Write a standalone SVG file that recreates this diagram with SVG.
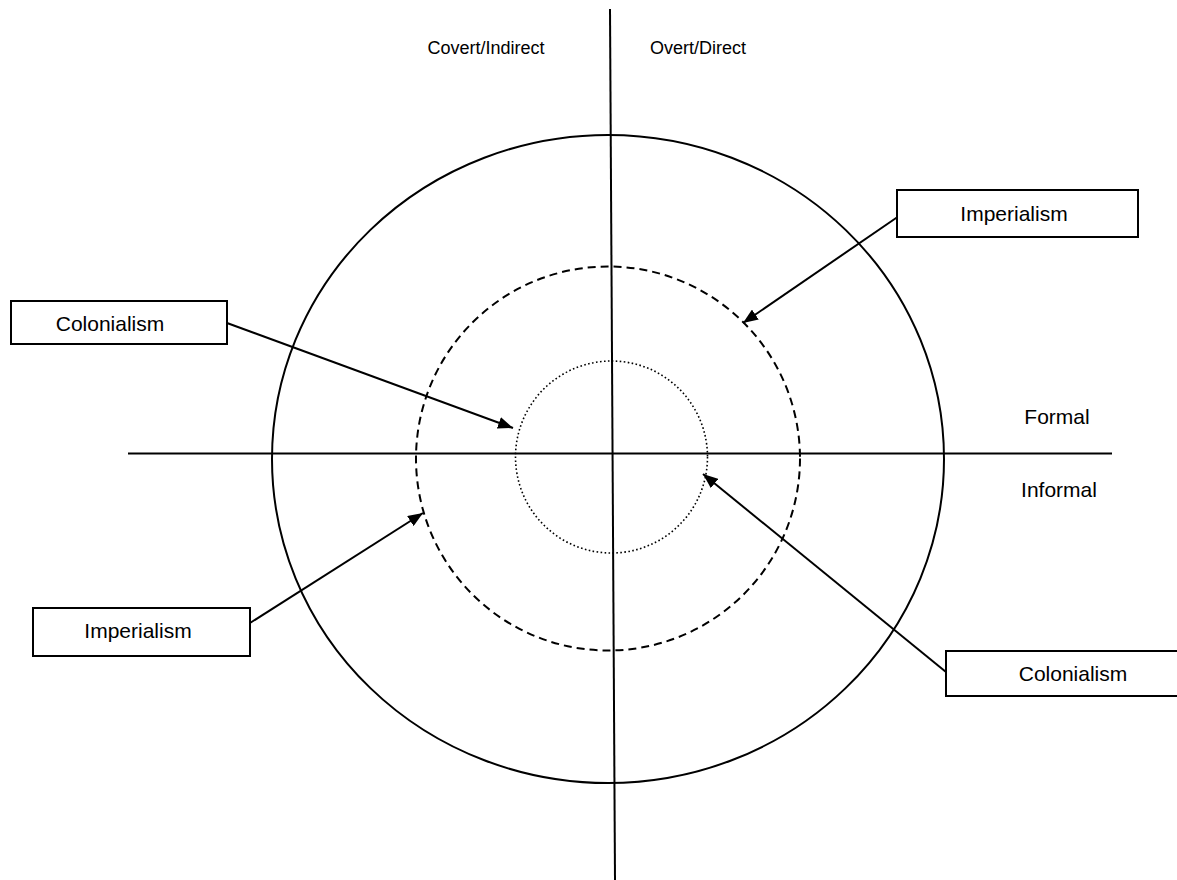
<svg xmlns="http://www.w3.org/2000/svg" width="1177" height="880" viewBox="0 0 1177 880">
<style>
.ln{stroke:#000;stroke-width:2;fill:none}
.box{fill:#fff;stroke:#000;stroke-width:2}
.t{font-family:"Liberation Sans",Arial,sans-serif;font-size:21px;fill:#000;text-anchor:middle}
.s{font-size:18px}
.ar{stroke:#000;stroke-width:2;fill:none;marker-end:url(#ah)}
</style>
<defs>
<marker id="ah" markerUnits="userSpaceOnUse" markerWidth="16" markerHeight="12" refX="15" refY="6" orient="auto">
<path d="M0,0 L15,6 L0,12 z" fill="#000"/>
</marker>
</defs>
<rect width="1177" height="880" fill="#fff"/>
<g id="rings">
<ellipse cx="608" cy="459" rx="336" ry="324" class="ln"/>
<circle cx="608" cy="458.5" r="192" class="ln" stroke-dasharray="8,5"/>
<circle cx="611.5" cy="457" r="96" style="stroke:#000;stroke-width:1.6;fill:none" stroke-dasharray="1.6,2.4"/>
</g>
<g id="axes">
<line x1="610" y1="9" x2="615" y2="880" class="ln"/>
<line x1="128" y1="453.5" x2="1112" y2="453.5" class="ln"/>
</g>
<g id="axis-labels">
<text class="t s" x="486" y="54">Covert/Indirect</text>
<text class="t s" x="698" y="54">Overt/Direct</text>
<text class="t" x="1057" y="424">Formal</text>
<text class="t" x="1059" y="497">Informal</text>
</g>
<g id="connectors">
<line class="ar" x1="227" y1="323" x2="513" y2="428"/>
<line class="ar" x1="899" y1="216" x2="743" y2="323"/>
<line class="ar" x1="250" y1="623" x2="423" y2="513"/>
<line class="ar" x1="946" y1="672" x2="703" y2="474"/>
</g>
<g id="colonialism-left">
<rect class="box" x="11" y="301" width="216" height="43"/>
<text class="t" x="110" y="331">Colonialism</text>
</g>
<g id="imperialism-right">
<rect class="box" x="897" y="190" width="241" height="47"/>
<text class="t" x="1014" y="221">Imperialism</text>
</g>
<g id="imperialism-left">
<rect class="box" x="33" y="608" width="217" height="48"/>
<text class="t" x="138" y="638">Imperialism</text>
</g>
<g id="colonialism-right">
<rect class="box" x="946" y="651" width="240" height="45"/>
<text class="t" x="1073" y="681">Colonialism</text>
</g>
</svg>
